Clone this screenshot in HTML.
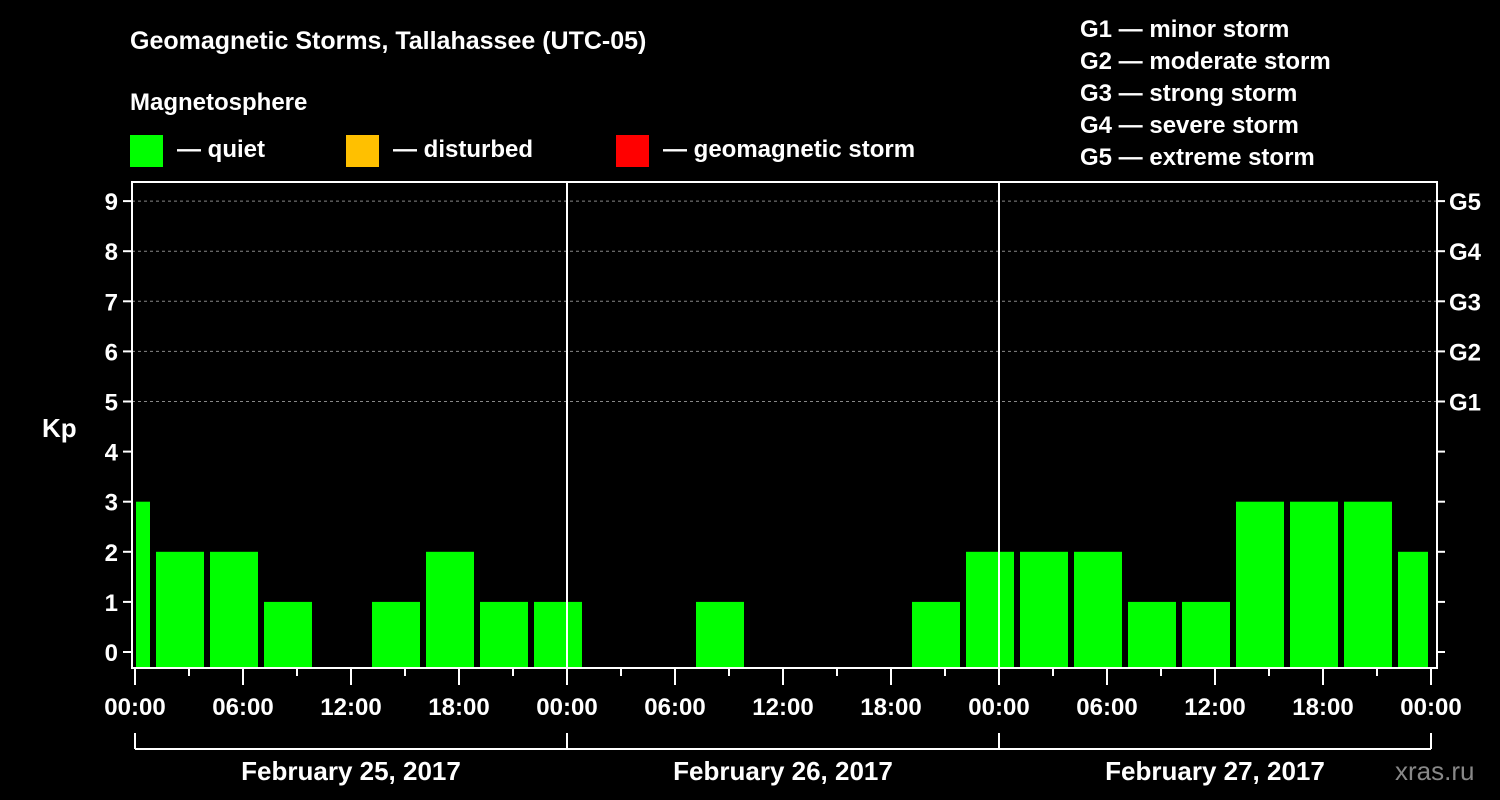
<!DOCTYPE html>
<html><head><meta charset="utf-8"><style>
body{margin:0;background:#000;}
svg{display:block;font-family:"Liberation Sans",Arial,sans-serif;font-weight:bold;}
</style></head><body>
<svg width="1500" height="800" viewBox="0 0 1500 800">
<rect width="1500" height="800" fill="#000"/>
<text x="130" y="49" fill="#fff" font-size="25">Geomagnetic Storms, Tallahassee (UTC-05)</text>
<text x="130" y="110" fill="#fff" font-size="24">Magnetosphere</text>
<g><rect x="130" y="135" width="33" height="32" fill="#00ff00"/><text x="177" y="157" fill="#fff" font-size="24">— quiet</text></g>
<g><rect x="346" y="135" width="33" height="32" fill="#ffc000"/><text x="393" y="157" fill="#fff" font-size="24">— disturbed</text></g>
<g><rect x="616" y="135" width="33" height="32" fill="#ff0000"/><text x="663" y="157" fill="#fff" font-size="24">— geomagnetic storm</text></g>
<g fill="#fff" font-size="24">
<text x="1080" y="37">G1 — minor storm</text><text x="1080" y="69">G2 — moderate storm</text><text x="1080" y="101">G3 — strong storm</text><text x="1080" y="133">G4 — severe storm</text><text x="1080" y="165">G5 — extreme storm</text></g>
<g id="grid"></g><g id="bars"></g><g id="axes"></g>
<text x="42" y="437" fill="#fff" font-size="26">Kp</text>
<text x="1395" y="780" fill="#888" font-size="26" font-weight="normal">xras.ru</text>
</svg>
<script>
const days=["February 25, 2017","February 26, 2017","February 27, 2017"];
const slotHours=[-2,1,4,7,10,13,16,19,22,25,28,31,34,37,40,43,46,49,52,55,58,61,64,67,70];
const kpValues=[3,2,2,1,0,1,2,1,1,0,0,1,0,0,0,1,2,2,2,1,1,3,3,3,2];
const gLabels=["G1","G2","G3","G4","G5"];
const ns="http://www.w3.org/2000/svg";
const L=132,R=1437,T=182,B=668,X0=135,PXH=18;
const xs=h=>X0+h*PXH, ys=v=>652-v*50.1;
function mk(t,a,p){const e=document.createElementNS(ns,t);for(const k in a)e.setAttribute(k,a[k]);p.appendChild(e);return e;}
const grid=document.getElementById('grid'),bars=document.getElementById('bars'),axes=document.getElementById('axes');
for(let v=5;v<=9;v++){const g=mk('line',{x1:L,x2:R,y1:ys(v),y2:ys(v),stroke:'#888','stroke-dasharray':'3,3'},grid);
}
kpValues.forEach((v,i)=>{if(v<=0)return;
let x1=Math.max(xs(slotHours[i])+3,L+4),x2=Math.min(xs(slotHours[i]+3)-3,R-9);
const r=mk('rect',{x:x1,y:ys(v),width:x2-x1,height:B-ys(v),fill:v>=5?'#ff0000':(v>=4?'#ffc000':'#00ff00')},bars);
});
mk('rect',{x:L,y:T,width:R-L,height:B-T,fill:'none',stroke:'#fff','stroke-width':2},axes);
for(let d=1;d<3;d++)mk('line',{x1:xs(d*24),x2:xs(d*24),y1:T,y2:B,stroke:'#fff','stroke-width':2},axes);
for(let v=0;v<=9;v++){
mk('line',{x1:L-9,x2:L,y1:ys(v),y2:ys(v),stroke:'#fff','stroke-width':2},axes);
mk('line',{x1:R,x2:R+8,y1:ys(v),y2:ys(v),stroke:'#fff','stroke-width':2},axes);
const t=mk('text',{x:L-14,y:ys(v)+9,fill:'#fff','font-size':24,'text-anchor':'end'},axes);t.textContent=v;
}
gLabels.forEach((g,i)=>{const t=mk('text',{x:R+12,y:ys(5+i)+9,fill:'#fff','font-size':24},axes);t.textContent=g;
});
for(let h=0;h<=72;h+=3){const maj=h%6==0;
mk('line',{x1:xs(h),x2:xs(h),y1:B,y2:B+(maj?17:8),stroke:'#fff','stroke-width':2},axes);
if(maj){const t=mk('text',{x:xs(h),y:715,fill:'#fff','font-size':24,'text-anchor':'middle'},axes);
t.textContent=String(h%24).padStart(2,'0')+':00';
}}
mk('line',{x1:xs(0),x2:xs(72),y1:749,y2:749,stroke:'#fff','stroke-width':2},axes);
for(let d=0;d<=3;d++)mk('line',{x1:xs(d*24),x2:xs(d*24),y1:733,y2:749,stroke:'#fff','stroke-width':2},axes);
days.forEach((d,i)=>{const t=mk('text',{x:xs(i*24+12),y:780,fill:'#fff','font-size':26,'text-anchor':'middle'},axes);t.textContent=d;
});
</script>
</body></html>
